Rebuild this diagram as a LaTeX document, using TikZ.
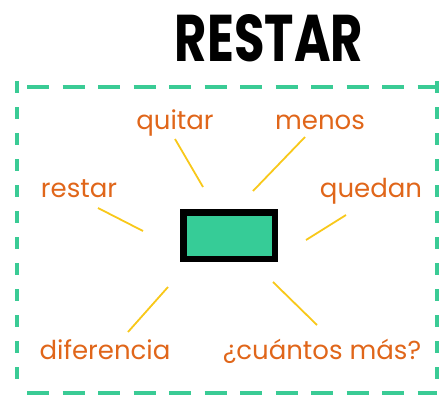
\documentclass[tikz,border=0pt]{standalone}
\usepackage{fontspec}
\setmainfont{Poppins}
\newfontfamily\titlefont{Poppins}
\definecolor{mint}{HTML}{36CC97}
\definecolor{dashgreen}{HTML}{3ACB95}
\definecolor{word}{HTML}{E0661A}
\definecolor{ray}{HTML}{F8C81A}
\tikzset{
  word/.style={text=word, font=\fontsize{26}{29}\selectfont, inner sep=0pt, anchor=base},
  raystroke/.style={draw=ray, line width=1.8pt},
  frameh/.style={draw=dashgreen, line width=4.5pt, dash pattern=on 22pt off 13.5pt},
  framev/.style={draw=dashgreen, line width=4.5pt, dash pattern=on 12pt off 14pt},
}
\begin{document}
\begin{tikzpicture}[x=1pt,y=-1pt]
\useasboundingbox (0,0) rectangle (442,396);
% title
\node[inner sep=0pt] (title) at (269,38.5) {\resizebox{188pt}{47pt}{\titlefont\bfseries RESTAR}};
% frame
\coordinate (tl) at (17,87);
\coordinate (tr) at (437,87);
\coordinate (bl) at (17,393);
\coordinate (br) at (437,393);
\draw[frameh] ([xshift=10pt]tl) -- (tr);
\draw[frameh] ([xshift=10pt]bl) -- (br);
\draw[framev] ([yshift=6pt]tl) -- (bl);
\draw[framev] ([yshift=6pt]tr) -- (br);
% central box
\node[draw=black, fill=mint, line width=6.5pt, minimum width=91.5pt, minimum height=46.5pt, inner sep=0pt] (box) at (229.25,235.75) {};
% words
\node[word] (quitar) at (175,129) {quitar};
\node[word] (menos) at (320,129) {menos};
\node[word] (restar) at (79,197) {restar};
\node[word] (quedan) at (371,197) {quedan};
\node[word] (dif) at (105,359) {diferencia};
\node[word] (cuantos) at (322,359) {¿cuántos más?};
% rays
\coordinate (q1) at (175,139); \coordinate (q2) at (203,187);
\coordinate (m1) at (305,137); \coordinate (m2) at (253,191);
\coordinate (r1) at (98,208);  \coordinate (r2) at (143,231);
\coordinate (u1) at (346,215); \coordinate (u2) at (306,240);
\coordinate (d1) at (168,287); \coordinate (d2) at (128,332);
\coordinate (c1) at (273,282); \coordinate (c2) at (317,325);
\draw[raystroke] (q1) -- (q2);
\draw[raystroke] (m1) -- (m2);
\draw[raystroke] (r1) -- (r2);
\draw[raystroke] (u1) -- (u2);
\draw[raystroke] (d1) -- (d2);
\draw[raystroke] (c1) -- (c2);
\end{tikzpicture}
\end{document}
